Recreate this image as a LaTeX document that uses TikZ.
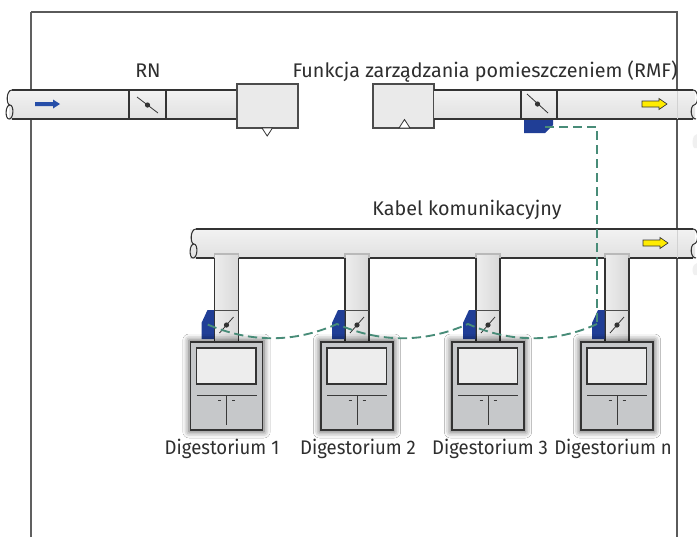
\documentclass[tikz,border=0pt]{standalone}
\usepackage{fontspec}
\setmainfont{Fira Sans}
\usetikzlibrary{shadows.blur}
\definecolor{linedark}{HTML}{333333}
\definecolor{framegrey}{HTML}{5A5A5A}
\definecolor{actblue}{RGB}{32,62,150}
\definecolor{cablegreen}{RGB}{72,140,120}
\definecolor{hoodgrey}{HTML}{C6C8CA}
\definecolor{panel}{HTML}{EDEDED}
\definecolor{boxgrey}{HTML}{EAEAEA}
\definecolor{arrowyellow}{RGB}{255,236,0}
\definecolor{arrowblue}{RGB}{38,78,168}
\definecolor{txt}{HTML}{2E2E2E}
\tikzset{
  pipeshade/.style={top color=gray!10, middle color=white, bottom color=gray!24},
  ductshade/.style={left color=gray!14, middle color=white, right color=gray!30},
  wall/.style={draw=linedark, line width=0.8pt},
  thinwall/.style={draw=linedark, line width=0.6pt},
  unitbox/.style={draw=gray!60!black, line width=0.8pt, fill=boxgrey},
  actuator/.style={fill=actblue},
  cable/.style={draw=cablegreen, line width=1.4pt, dash pattern=on 7pt off 3.5pt},
  hood/.style={draw=linedark, line width=0.9pt, fill=hoodgrey,
    blur shadow={shadow xshift=0pt, shadow yshift=0pt, shadow blur radius=4.5pt,
      shadow opacity=65, shadow scale=1.04}},
  hoodline/.style={draw=gray!45!black, line width=0.7pt},
  label/.style={text=txt, font=\fontsize{14.8}{17}\selectfont, anchor=base, inner sep=0pt},
  hoodlabel/.style={label, xscale=0.94},
  flowarrow/.style={draw=linedark, line width=0.5pt, fill=arrowyellow},
}
\begin{document}
\begin{tikzpicture}[x=0.75pt,y=-0.75pt]
\useasboundingbox (0,0) rectangle (697,537);
\fill[white] (0,0) rectangle (697,537);

% open frame of the room
\draw[draw=gray!75!black, line width=0.8pt] (31,537) -- (31,12);
\draw[draw=framegrey, line width=0.8pt] (31,12) -- (677,12) -- (677,537);

% ---- supply duct with RN damper ----
\path[pipeshade] (9,90) rectangle (237,119);
\draw[wall] (12,90) -- (237,90) (12,119) -- (237,119);
\draw[wall] (12,90) .. controls (6,90) and (6,105) .. (10,105)
            .. controls (14,105) and (14,119) .. (9,119)
            (10,105) .. controls (5,105) and (5,119) .. (9,119);
\draw[wall] (129,90) -- (129,119) (166,90) -- (166,119);
\draw[thinwall] (137,97) -- (158,113);
\fill[linedark] (147.5,105) circle (2.6);
\fill[arrowblue] (35,102) -- (53,102) -- (53,99.5) -- (60,104) -- (53,108.5) -- (53,106) -- (35,106) -- cycle;

\node[unitbox, minimum width=45.75pt, minimum height=33pt, inner sep=0pt] (rnbox) at (267.5,106) {};
\draw[thinwall, fill=white] (262,128) -- (272.5,128) -- (267.2,136) -- cycle;

% ---- room management function unit and exhaust duct ----
\node[unitbox, minimum width=45.75pt, minimum height=33pt, inner sep=0pt] (rmfbox) at (403.5,106) {};
\draw[thinwall, fill=white] (399,128) -- (410,128) -- (404.5,119.5) -- cycle;

\path[pipeshade] (434,90) rectangle (695,119);
\draw[wall] (434,90) -- (693,90) (434,119) -- (693,119);
\draw[wall] (693,90) .. controls (699,90) and (699,104) .. (694,105)
            .. controls (690,106) and (690,119) .. (696,119);
\draw[wall] (521,90) -- (521,119) (557,90) -- (557,119);
\draw[thinwall] (527,94) -- (548,113);
\fill[linedark] (537.5,104) circle (2.6);
\draw[flowarrow] (642,101) -- (659,101) -- (659,98.5) -- (667,104) -- (659,109.5) -- (659,107) -- (642,107) -- cycle;
\draw[draw=gray!35, line width=0.6pt] (677,90.5) -- (677,118.5);

% actuator of the RMF damper
\path[actuator] (524,120) -- (553,120) -- (553,125) -- (545,133) -- (524,133) -- cycle;
\coordinate (rmfact) at (545,127);

% ---- common exhaust duct ----
\path[pipeshade] (190,229) rectangle (695,258);
\draw[wall] (196,229) -- (693,229) (196,258) -- (693,258);
\draw[wall] (196,229) .. controls (190,229) and (190,244) .. (194,244)
            .. controls (198,244) and (198,258) .. (193,258)
            (194,244) .. controls (189,244) and (189,258) .. (193,258);
\draw[wall] (693,229) .. controls (699,229) and (699,243) .. (694,244)
            .. controls (690,245) and (690,258) .. (696,258);
\draw[flowarrow] (643,240) -- (660,240) -- (660,237.5) -- (668,243) -- (660,248.5) -- (660,246) -- (643,246) -- cycle;
\draw[draw=gray!35, line width=0.6pt] (677,229.5) -- (677,257.5);

% fragments of further ducts beyond the frame
\fill[gray!12] (697,134) -- (694,136) .. controls (692,140) and (692,145) .. (694,148) -- (697,148) -- cycle;
\fill[gray!12] (697,263) -- (694,265) .. controls (692,268) and (692,272) .. (694,275) -- (697,275) -- cycle;

% ---- fume hoods with branch ducts, dampers and actuators ----
\foreach \i/\cx/\lx in {1/226.5/222, 2/357/358, 3/488/490, 4/617/613} {
  % branch duct
  \path[ductshade] (\cx-12,254) rectangle (\cx+12,341);
  \draw[draw=gray!55, line width=0.8pt] (\cx-12,258) -- (\cx-12,254) -- (\cx+12,254) -- (\cx+12,258);
  \draw[wall] (\cx-12,258) -- (\cx-12,341) (\cx+12,258) -- (\cx+12,341);
  \draw[draw=gray!60!black, line width=0.7pt] (\cx-12,310) -- (\cx+12,310);
  \draw[thinwall] (\cx-7,333) -- (\cx+7,317);
  \fill[linedark] (\cx,325) circle (2.6);
  % actuator
  \path[actuator] (\cx-12.5,310) -- (\cx-19,310) -- (\cx-25,323) -- (\cx-25,339) -- (\cx-12.5,339) -- cycle;
  \coordinate (act\i) at (\cx-20,324);
  % hood
  \node[hood, minimum width=54pt, minimum height=66pt, inner sep=0pt] (hood\i) at (\cx,386) {};
  \draw[draw=linedark, line width=0.8pt, fill=panel] (\cx-30,348) rectangle (\cx+29.5,384);
  \draw[hoodline] (\cx-30,395) -- (\cx+30,395) (\cx,395) -- (\cx,425);
  \draw[hoodline] (\cx-8.5,400.5) -- (\cx-5.5,400.5) (\cx+5.5,400.5) -- (\cx+8.5,400.5);
  \node[hoodlabel] (name\i) at (\lx,454) {Digestorium \ifnum\i=4 n\else\i\fi};
}

% ---- communication cable ----
\draw[cable] (rmfact) -| (act4);
\draw[cable] (act4) .. controls (555,343) and (511,343) .. (act3)
             .. controls (425,343) and (380,343) .. (act2)
             .. controls (294,343) and (250,343) .. (act1);

% ---- labels ----
\node[label] (rn) at (148,77) {RN};
\node[label] (rmf) at (485,77) {Funkcja zarządzania pomieszczeniem (RMF)};
\node[label] (kabel) at (467,215) {Kabel komunikacyjny};
\end{tikzpicture}
\end{document}
